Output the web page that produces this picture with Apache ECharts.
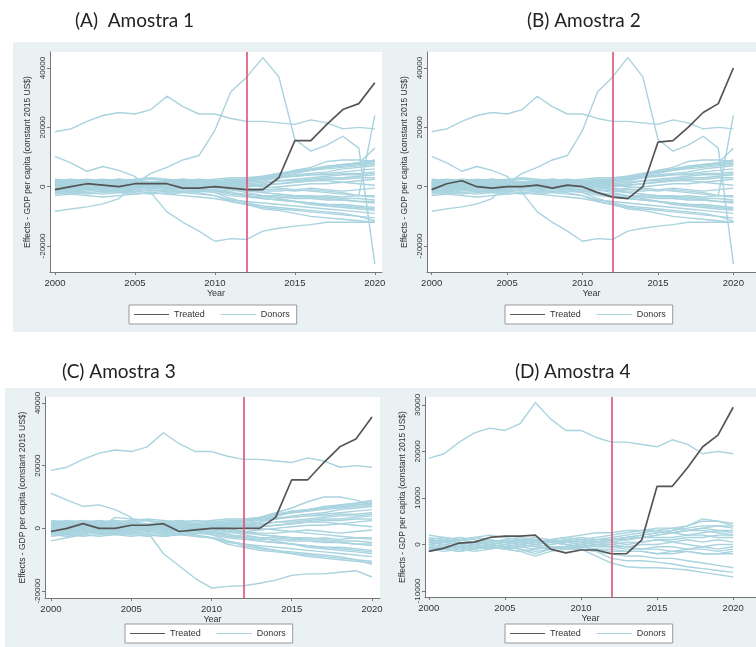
<!DOCTYPE html>
<html><head><meta charset="utf-8">
<script src="https://cdn.jsdelivr.net/npm/echarts@6/dist/echarts.min.js"></script>
<style>html,body{margin:0;padding:0;background:#fff}#c{width:756px;height:647px}</style>
</head><body><div id="c"></div>
<script>
// Values in thousands of constant 2015 US$
const years = [2000,2001,2002,2003,2004,2005,2006,2007,2008,2009,2010,2011,2012,2013,2014,2015,2016,2017,2018,2019,2020];
const xTicks = [2000,2005,2010,2015,2020];
const yTicksAB = [-20,0,20,40];
const yTickLabelsAB = ['-20000','0','20000','40000'];
const yTicksC = [-20,0,20,40];
const yTickLabelsC = ['-20000','0','20000','40000'];
const yTicksD = [-10,0,10,20,30];
const yTickLabelsD = ['-10000','0','10000','20000','30000'];
const titles = ['(A)  Amostra 1','(B) Amostra 2','(C) Amostra 3','(D) Amostra 4'];

const treatedA = [-1,0,1,0.5,0,1,1,1,-0.5,-0.5,0,-0.5,-1,-1,3,15.5,15.5,21,26,28,35];
const treatedB = [-1,1,2,0,-0.5,0,0,0.5,-0.5,0.5,0,-2,-3.5,-4,0,15,15.5,20,25,28,40];
const treatedC = [-1,0,1.5,0,0,1,1,1.5,-1,-0.5,0,0,0,0,3.5,15.5,15.5,21,26,28.5,35.5];
const treatedD = [-1.5,-0.8,0.3,0.5,1.5,1.8,1.8,2,-1,-1.8,-1.2,-1.2,-2,-2,1,12.5,12.5,16.5,21,23.5,29.5];

// donors common to panels A, B and C (central band)
const b1 = [-1.5,-1,-0.5,0,0.5,0,0.5,1,0.5,0,0.5,1,1.5,2,3,4,4.5,5,6,6.5,7];
const b2 = [1,1.5,1,0.5,0,1,1.5,1.5,1,1.5,2,2.5,2.5,3,4,5,5.5,6.5,7.5,8,8.5];
const b3 = [2,1.5,2,1.5,1,2,2.5,2,2,2.5,2,2,2.5,3,3.5,3.5,4,4,4.5,4.5,5];
const b4 = [-0.5,0,0.5,0.5,0,-0.5,0,0.5,0,-0.5,0,0.5,1,1.5,2,2,2.5,3,3,3.5,4];
const b5 = [0.5,0,-0.5,-1,-1.5,-1,-0.5,0,-0.5,-1,-1,-1.5,-1,-0.5,0,0.5,1,1,1.5,2,2.5];
const b6 = [-2,-1.5,-1,-1.5,-2,-1.5,-1,-1.5,-1,-1.5,-2,-3,-3.5,-4,-4.5,-5,-5.5,-6,-6.5,-7,-7.5];
const b7 = [1.5,2,2.5,2,1.5,1,1.5,1,0.5,1,1.5,1,0.5,0,-0.5,-1,-1.5,-2,-2.5,-3,-3];
const b8 = [-1,-1.5,-2,-2.5,-2,-2.5,-2,-1.5,-2,-2.5,-3,-4.5,-5,-5.5,-6,-6.5,-7,-7.5,-8,-8.5,-9];
const b9 = [0,0.5,1,1.5,1,0.5,1,1.5,2,1.5,1,1.5,2,2.5,3,3.5,4,4.5,5,5.5,6];
const b10 = [-0.5,-1,-0.5,0,0.5,1,0.5,0,-0.5,0,-0.5,-1,-1.5,-2,-2.5,-3,-3.5,-4,-4.5,-5,-5];
const b11 = [2.5,2,1.5,2,2.5,2,1.5,2,2.5,2,2.5,3,3,3.5,4.5,5,5.5,6,6.5,7,7.5];
const b12 = [-2.5,-2,-2.5,-2,-1.5,-2,-2.5,-2,-1.5,-2,-3,-5,-6,-7,-7.5,-8,-8.5,-9,-9.5,-10,-10.5];
const b13 = [0.5,1,0.5,0,-0.5,0,0.5,1,1.5,1,0.5,0,0,0.5,1,1.5,2,2.5,2.5,3,3];
const b14 = [-1,-0.5,0,-0.5,-1,-0.5,0,-0.5,-1,-0.5,-1.5,-2.5,-3,-3.5,-3.5,-4,-4,-4.5,-4.5,-5,-5.5];
const b15 = [1,0.5,0,0.5,1,1.5,1,0.5,1,0.5,0,-0.5,-1,-1.5,-1.5,-1,-0.5,-1,-1.5,-1,-0.5];
const b16 = [-1.5,-2,-1.5,-1,-0.5,-1,-1.5,-1,-0.5,-1,-2,-4,-5.5,-6.5,-7,-7.5,-8,-8.5,-9,-10,-11.5];
const b17 = [0,-0.5,-1,-0.5,0,0.5,0,-0.5,0,0.5,1,1.5,2.5,3.5,4.5,5.5,6,7,7.5,8,9];
const b18 = [2,2.5,2,1.5,2,2.5,3,2.5,2,1.5,1,0,-1,-2,-2.5,-3,-3,-3.5,-4,-4,-4.5];
const b19 = [-0.5,0,0.5,1,0.5,0,-0.5,-1,-0.5,0,0.5,1,2,3,4,5,6,6.5,7,7.5,8];
const b20 = [1,1.5,2,2.5,2,1.5,1,1.5,1,0.5,0,-1,-2,-3,-4,-5,-6,-6.5,-7,-7.5,-8];
const b21 = [-1,-0.5,-1,-1.5,-1,-0.5,0,0.5,0,-0.5,-1,-2,-3,-4,-4.5,-5,-5.5,-6,-6,-6.5,-7];
const b22 = [0,0.5,0,-0.5,0,0.5,1,0.5,0,0.5,1,1.5,1,0.5,1,1.5,2,2,1.5,1,0.5];
const b23 = [1.5,1,0.5,1,1.5,1,0.5,1,1.5,1,1,0.5,0.5,1,2,2.5,3,3.5,4,4,4.5];
const b24 = [-2,-2.5,-2,-1.5,-1,-1.5,-2,-2.5,-2,-1.5,-1.5,-2,-2.5,-3,-3,-3.5,-3.5,-3,-3.5,-3,-3.5];
const bandABC = [b1,b2,b3,b4,b5,b6,b7,b8,b9,b10,b11,b12,b13,b14,b15,b16,b17,b18,b19,b20,b21,b22,b23,b24];

// donor far above all others (all panels)
const oTop = [18.5,19.5,22,24,25,24.5,26,30.5,27,24.5,24.5,23,22,22,21.5,21,22.5,21.5,19.5,20,19.5];

// outlying donors in panels A and B
const aL3 = [10.2,8,5.2,6.8,5.5,3.5,-2,-8.5,-12,-15,-18.4,-17.5,-17.8,-15,-14,-13.3,-12.8,-12,-12,-12,-12];
const aPeak = [-8.3,-7.5,-6.8,-5.8,-4,1,4.5,6.5,9,10.5,19,32,37,43.5,37,16,12,14,17,13,-26];
const aUp24 = [0.5,1,0.5,0,0.5,1,0.5,0,0.5,1,0.5,0,-0.5,-1,-1,-1.5,-1,-1.5,-2,-3,24];
const aUp13 = [-1,-1.5,-1,-0.5,0,0.5,0,-0.5,0,0.5,1,1.5,2,2.5,3.5,4.5,5.5,6.5,7,8,13];
const aUp9 = [1.5,1,1.5,2,2.5,2,1.5,2,2.5,2,1.5,2,2.5,3,4,5.5,6.5,8.5,9,9,8.5];
const aLow12 = [-3,-2.5,-3,-3.5,-3,-2.5,-2,-2.5,-3,-3.5,-4,-5,-6,-7.5,-8,-9,-10,-10.5,-11,-11.5,-12];

// outlying donors in panel C
const cL3 = [11.2,9,7,7.5,6,3.5,-1,-8,-12,-16,-19,-18.5,-18.3,-17.5,-16.5,-15,-14.5,-14.5,-14,-13.5,-15.5];
const cUp10 = [0.5,1,0.5,1,1.5,1,1.5,1,0.5,1,1.5,2,2.5,3.5,5,6.5,8.5,10,10,9,7.5];
const cUp6 = [-4,-3,-2,0,3.5,3,2.5,1.5,1,0.5,0,0.5,1,2,4,5.5,6,6.5,7,7.5,8];
const cLow11 = [-2,-1.5,-1,-1.5,-2,-1.5,-2,-2.5,-2,-2.5,-3,-4,-5,-6,-7,-8,-9,-9.5,-10,-10.5,-11];

// donors in panel D
const d1 = [2,1.5,1,0.5,0,0.5,1,0.5,0,0.5,1,1.5,2,2.5,3,3,3.5,4,5,5,4.5];
const d2 = [-1,-0.5,0,0.5,0,-0.5,0,0.5,1,0.5,0,0.5,1,1.5,2,2.5,3,3.5,4,4,4];
const d3 = [0.5,0,-0.5,0,0.5,1,0.5,0,0.5,1,1.5,1,1,1.5,1.5,2,2.5,3,3.5,3,3];
const d4 = [-1.5,-1,-1.5,-1,-0.5,-1,-1.5,-2.5,-1.5,-1,-0.5,0,0,0.5,0.5,1,1,1.5,1.5,2,2];
const d5 = [0,0.5,1,1.5,1,0.5,0,-0.5,0,0.5,0,-0.5,-0.5,-1,-1,-1,-1.5,-1.5,-2,-2,-2];
const d6 = [1,0.5,0,-0.5,-1,-0.5,0,0.5,1,1.5,1,0.5,0.5,1,1.5,2,2.5,2,2.5,3,2.5];
const d7 = [-0.5,-1,-1.5,-1,-0.5,0,0.5,1,0.5,0,-0.5,-1,-1,-1.5,-1.5,-2,-2,-1.5,-2,-2,-1.5];
const d8 = [0.5,1,0.5,0,-0.5,-1,-0.5,0,0.5,0,-0.5,0,0.5,0,0.5,1,0.5,1,0.5,1,0.5];
const d9 = [-1,-0.5,-1,-1.5,-1,-0.5,-1,-1.5,-1,-0.5,0,0.5,1,1.5,2,2.5,3,4,5.5,5,4];
const d10 = [1.5,1,1.5,1,0.5,1,1.5,1,0.5,0,-0.5,-1,-1.5,-1.5,-1.5,-2,-1.5,-1,-1,-1.5,-1];
const d11 = [0,-0.5,0,0.5,1,0.5,0,-0.5,-1,-0.5,0,0.5,1,1,1.5,1.5,1.5,2,2,1.5,1.5];
const d12 = [-0.5,0,0.5,0,-0.5,-1,-1.5,-1,-0.5,-1,-1,-1.5,-2,-2.5,-2.5,-3,-3,-3.5,-4,-4.5,-5];
const d13 = [1,1.5,1,0.5,0,0.5,1,1.5,1,0.5,0.5,0,-0.5,-0.5,0,0,0.5,0,-0.5,0,0];
const d14 = [0.5,0,-0.5,-1,-0.5,0,0.5,0,-0.5,-1,-1,-2.5,-4,-4.8,-5,-5,-5.2,-5.5,-6,-6.5,-7];
const d15 = [-0.5,-1,-0.5,0,0.5,0,-0.5,-1,-0.5,-0.5,-1,-1.5,-3,-3.5,-3.5,-3.8,-4.2,-4.8,-5.2,-5.6,-6];
const d16 = [1,0.5,1,1.5,2,1.5,1,0.5,1,1.5,2,2.5,2.5,3,3,3.5,3.5,3,3.5,4,3.5];
const d17 = [-1,-1.5,-1,-0.5,0,-0.5,-1,-2,-1,-0.5,-0.5,0,0,-0.5,-1,-0.5,-0.5,-1,-0.5,-1,-0.5];
const d18 = [0,0.5,0,-0.5,0,0.5,1,1,0.5,1,0.5,1,1.5,2,2.5,3,2.5,3,3,2.5,2];
const bandD = [d1,d2,d3,d4,d5,d6,d7,d8,d9,d10,d11,d12,d13,d14,d15,d16,d17,d18];

const donorsA = [oTop, aL3, aPeak, aUp24, aUp13, aUp9, aLow12].concat(bandABC);
const donorsB = donorsA;
const donorsC = [oTop, cL3, cUp10, cUp6, cLow11].concat(bandABC);
const donorsD = [oTop].concat(bandD);

const treatYear = 2012;

const C_DONOR = '#a8d3df', C_TREAT = '#555555', C_RED = '#dc5274', C_BG = '#e9f1f3';
const FONT = 'Liberation Sans';

const panels = [
  {donors: donorsA, treated: treatedA, grid:{left:50, top:52, width:332, height:220}, x:[1999.69,2020.45], y:[-28.76,45.4], yt:yTicksAB, yl:yTickLabelsAB, legend:{left:129, top:305}},
  {donors: donorsB, treated: treatedB, grid:{left:427, top:52, width:347, height:220}, x:[1999.69,2021.5], y:[-28.76,45.4], yt:yTicksAB, yl:yTickLabelsAB, legend:{left:505, top:305}},
  {donors: donorsC, treated: treatedC, grid:{left:45, top:397, width:335, height:201}, x:[1999.63,2020.5], y:[-22.2,41.9], yt:yTicksC, yl:yTickLabelsC, legend:{left:125, top:624}},
  {donors: donorsD, treated: treatedD, grid:{left:425, top:397, width:352, height:200}, x:[1999.75,2021.5], y:[-11.3,31.7], yt:yTicksD, yl:yTickLabelsD, legend:{left:505, top:624}}
];

const grids = [], xAxes = [], yAxes = [], series = [], legends = [];
panels.forEach((p, gi) => {
  grids.push(Object.assign({show:true, backgroundColor:'#ffffff', borderWidth:0, containLabel:false}, p.grid));
  xAxes.push({
    type:'value', gridIndex:gi, min:p.x[0], max:p.x[1],
    name:'Year', nameLocation:'middle', nameGap:17,
    nameTextStyle:{fontFamily:FONT, fontSize:9, color:'#333'},
    axisLine:{show:true, onZero:false, lineStyle:{color:'#777', width:1}},
    axisTick:{show:true, length:3, customValues:xTicks, lineStyle:{color:'#777'}},
    axisLabel:{customValues:xTicks, margin:6, fontFamily:FONT, fontSize:9.5, color:'#333', formatter:v=>String(v)},
    splitLine:{show:false}
  });
  yAxes.push({
    type:'value', gridIndex:gi, min:p.y[0], max:p.y[1],
    name:'Effects - GDP per capita (constant 2015 US$)', nameLocation:'middle', nameRotate:90, nameGap:18,
    nameTextStyle:{fontFamily:FONT, fontSize:8.5, color:'#333'},
    axisLine:{show:true, onZero:false, lineStyle:{color:'#777', width:1}},
    axisTick:{show:true, length:3, customValues:p.yt, lineStyle:{color:'#777'}},
    axisLabel:{customValues:p.yt, rotate:90, margin:3, fontFamily:FONT, fontSize:8, color:'#333',
      formatter:v=>p.yl[p.yt.indexOf(v)]},
    splitLine:{show:false}
  });
  p.donors.forEach(d => {
    series.push({type:'line', name:'Donors', xAxisIndex:gi, yAxisIndex:gi, symbol:'none', silent:true,
      data:d.map((v,i)=>[years[i], v]), lineStyle:{color:C_DONOR, width:1.4}, itemStyle:{color:C_DONOR}, z:2, animation:false});
  });
  series.push({type:'line', name:'Treated', xAxisIndex:gi, yAxisIndex:gi, symbol:'none', silent:true,
    data:p.treated.map((v,i)=>[years[i], v]), lineStyle:{color:C_TREAT, width:1.7}, itemStyle:{color:C_TREAT}, z:4, animation:false,
    markLine:{silent:true, symbol:['none','none'], label:{show:false}, animation:false,
      lineStyle:{color:C_RED, width:1.6, type:'solid'}, data:[{xAxis:treatYear}]}});
  legends.push({data:['Treated','Donors'], left:p.legend.left, top:p.legend.top, orient:'horizontal',
    icon:'rect', itemWidth:35, itemHeight:1.2, itemGap:16, padding:[5,7,5,5],
    backgroundColor:'#ffffff', borderColor:'#999', borderWidth:1, borderRadius:0,
    textStyle:{fontFamily:FONT, fontSize:9, color:'#333'}, selectedMode:false});
});

const titlePos = [{left:75, top:11},{left:527, top:11},{left:62, top:362},{left:515, top:362}];
const titleOpts = titles.map((t,i)=>({text:t, left:titlePos[i].left, top:titlePos[i].top, padding:0,
  textStyle:{fontFamily:'Lato', fontSize:19, fontWeight:'normal', color:'#222'}}));

const chart = echarts.init(document.getElementById('c'), null, {renderer:'canvas'});
chart.setOption({
  animation:false,
  backgroundColor:'#ffffff',
  title:titleOpts,
  graphic:[
    {type:'rect', z:-10, silent:true, shape:{x:13, y:42, width:369, height:290}, style:{fill:C_BG}},
    {type:'rect', z:-10, silent:true, shape:{x:382, y:42, width:374, height:290}, style:{fill:C_BG}},
    {type:'rect', z:-10, silent:true, shape:{x:5, y:388, width:375, height:259}, style:{fill:C_BG}},
    {type:'rect', z:-10, silent:true, shape:{x:380, y:388, width:376, height:259}, style:{fill:C_BG}}
  ],
  grid:grids, xAxis:xAxes, yAxis:yAxes, legend:legends, series:series
});
</script></body></html>
